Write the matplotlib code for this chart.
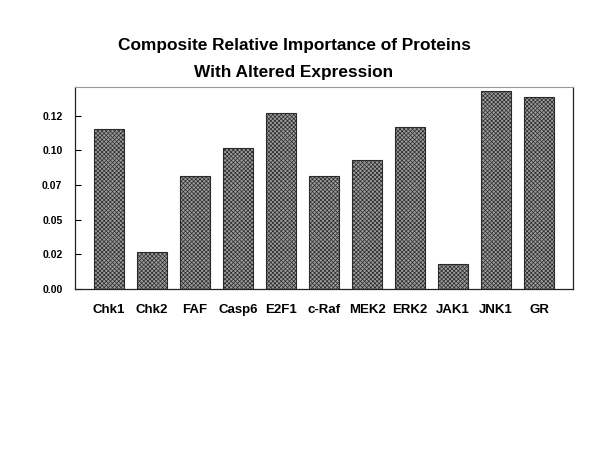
import matplotlib
matplotlib.use("Agg")
import matplotlib.pyplot as plt
from matplotlib.ticker import FixedLocator, FuncFormatter

# | Data |-------------------------------------------------------------------------------------------------------------|
proteins = ["Chk1", "Chk2", "FAF", "Casp6", "E2F1", "c-Raf", "MEK2", "ERK2", "JAK1", "JNK1", "GR"]
importance = [0.1153, 0.0267, 0.0818, 0.1020, 0.1268, 0.0818, 0.0932, 0.1167, 0.0180, 0.1424, 0.1383]
y_ticks = [0.0, 0.025, 0.05, 0.075, 0.10, 0.125]
y_tick_labels = ["0.00", "0.02", "0.05", "0.07", "0.10", "0.12"]
title = "Composite Relative Importance of Proteins\nWith Altered Expression"
# |--------------------------------------------------------------------------------------------------------------------|

plt.rcParams["font.family"] = ["Liberation Sans", "DejaVu Sans"]
plt.rcParams["hatch.linewidth"] = 0.5
plt.rcParams["hatch.color"] = "#4a4a4a"

fig = plt.figure(figsize=(6.0, 4.62), dpi=100)
ax = fig.add_axes([0.125, 0.374, 0.830, 0.438])

x = range(len(proteins))
ax.bar(x, importance, width=0.68, color="#9c9c9c", edgecolor="#2a2a2a",
       linewidth=0.8, hatch="xxxxxxxx")

ax.set_xlim(-0.79, len(proteins) - 1 + 0.79)
ax.set_ylim(0, 0.1457)

ax.yaxis.set_major_locator(FixedLocator(y_ticks))
ax.yaxis.set_major_formatter(FuncFormatter(lambda v, p: y_tick_labels[p] if p < len(y_tick_labels) else ""))
ax.tick_params(axis="y", direction="in", length=4, width=0.8, pad=9, labelsize=7.5)
for lbl in ax.get_yticklabels():
    lbl.set_fontweight("bold")

ax.set_xticks(list(x))
ax.set_xticklabels(proteins, fontsize=9.5, fontweight="bold")
ax.tick_params(axis="x", length=0, pad=11)

for side in ["left", "bottom", "right"]:
    ax.spines[side].set_color("#222222")
    ax.spines[side].set_linewidth(0.9)
ax.spines["top"].set_color("#999999")

fig.suptitle(title, x=0.49, y=0.917, fontsize=12.4, fontweight="bold", linespacing=2.0)

fig.savefig("out.png", dpi=100, facecolor="white")
